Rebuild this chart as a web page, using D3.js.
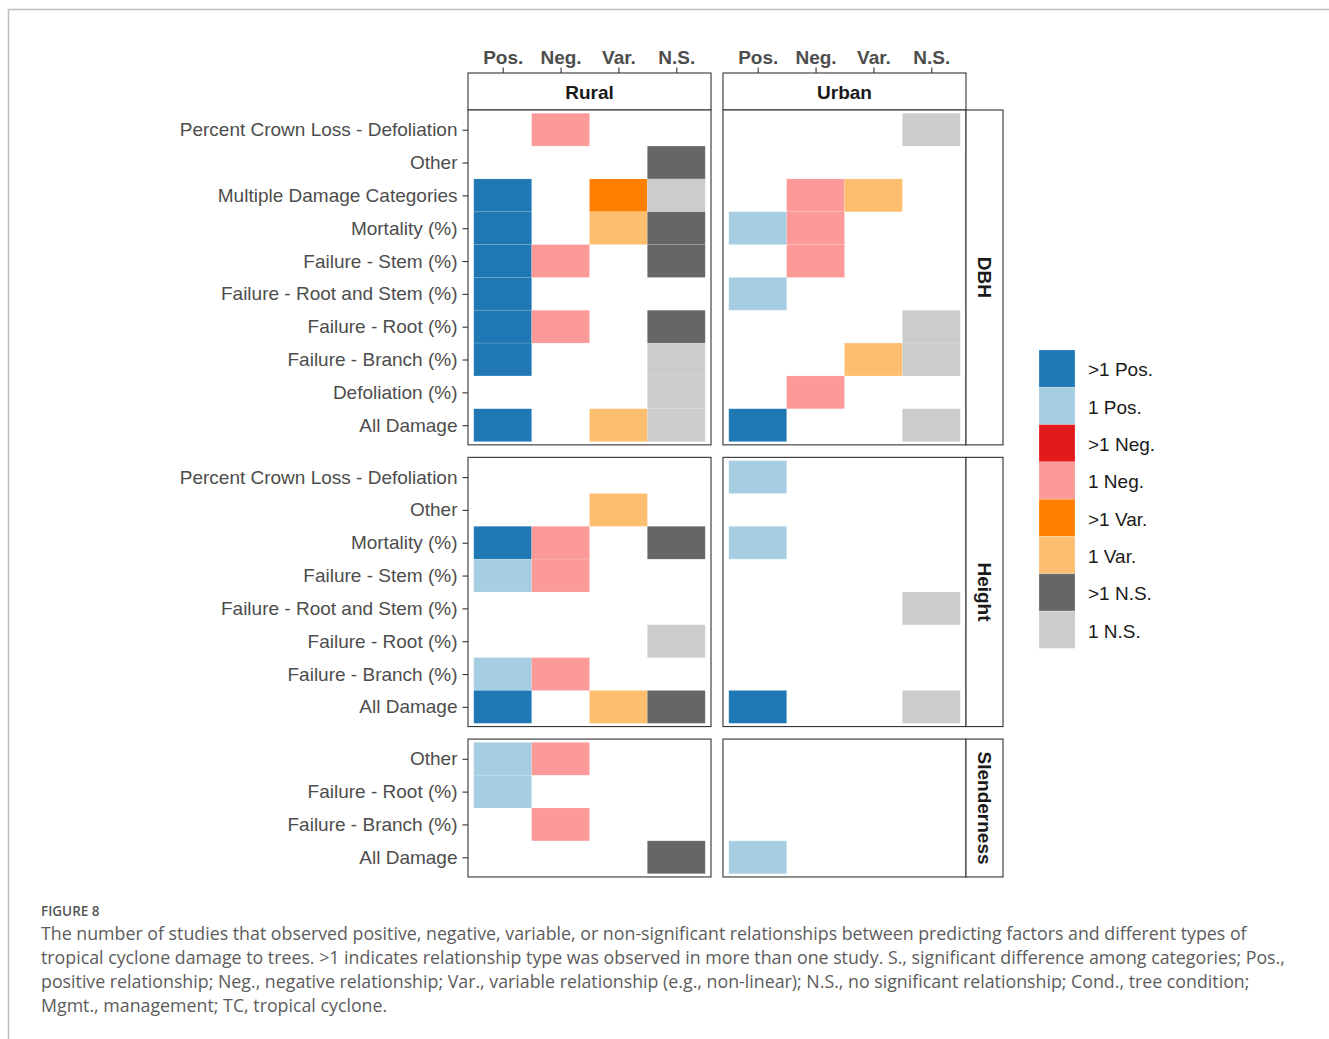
<!DOCTYPE html>
<html><head><meta charset="utf-8">
<script src="https://cdn.jsdelivr.net/npm/d3@7"></script>
<style>
html,body{margin:0;padding:0;background:#fff;}
svg{display:block;}
</style></head>
<body>
<svg id="chart" width="1329" height="1039"></svg>
<script>
// ---------- data ----------
const columns = ["Pos.", "Neg.", "Var.", "N.S."];
const locations = ["Rural", "Urban"];
const facets = ["DBH", "Height", "Slenderness"];
const levels = [">1 Pos.", "1 Pos.", ">1 Neg.", "1 Neg.", ">1 Var.", "1 Var.", ">1 N.S.", "1 N.S."];
const levelColors = ["#1f78b4", "#a6cee3", "#e31a1c", "#fb9a99", "#ff7f00", "#fdbf6f", "#666666", "#cccccc"];

const dbhRows = ["Percent Crown Loss - Defoliation", "Other", "Multiple Damage Categories", "Mortality (%)",
  "Failure - Stem (%)", "Failure - Root and Stem (%)", "Failure - Root (%)", "Failure - Branch (%)",
  "Defoliation (%)", "All Damage"];
const heightRows = ["Percent Crown Loss - Defoliation", "Other", "Mortality (%)", "Failure - Stem (%)",
  "Failure - Root and Stem (%)", "Failure - Root (%)", "Failure - Branch (%)", "All Damage"];
const slenderRows = ["Other", "Failure - Root (%)", "Failure - Branch (%)", "All Damage"];

// [row, column, count]  count: ">1" or "1"
const dbhRural = [
  ["Percent Crown Loss - Defoliation", "Neg.", "1"],
  ["Other", "N.S.", ">1"],
  ["Multiple Damage Categories", "Pos.", ">1"], ["Multiple Damage Categories", "Var.", ">1"], ["Multiple Damage Categories", "N.S.", "1"],
  ["Mortality (%)", "Pos.", ">1"], ["Mortality (%)", "Var.", "1"], ["Mortality (%)", "N.S.", ">1"],
  ["Failure - Stem (%)", "Pos.", ">1"], ["Failure - Stem (%)", "Neg.", "1"], ["Failure - Stem (%)", "N.S.", ">1"],
  ["Failure - Root and Stem (%)", "Pos.", ">1"],
  ["Failure - Root (%)", "Pos.", ">1"], ["Failure - Root (%)", "Neg.", "1"], ["Failure - Root (%)", "N.S.", ">1"],
  ["Failure - Branch (%)", "Pos.", ">1"], ["Failure - Branch (%)", "N.S.", "1"],
  ["Defoliation (%)", "N.S.", "1"],
  ["All Damage", "Pos.", ">1"], ["All Damage", "Var.", "1"], ["All Damage", "N.S.", "1"]
];
const dbhUrban = [
  ["Percent Crown Loss - Defoliation", "N.S.", "1"],
  ["Multiple Damage Categories", "Neg.", "1"], ["Multiple Damage Categories", "Var.", "1"],
  ["Mortality (%)", "Pos.", "1"], ["Mortality (%)", "Neg.", "1"],
  ["Failure - Stem (%)", "Neg.", "1"],
  ["Failure - Root and Stem (%)", "Pos.", "1"],
  ["Failure - Root (%)", "N.S.", "1"],
  ["Failure - Branch (%)", "Var.", "1"], ["Failure - Branch (%)", "N.S.", "1"],
  ["Defoliation (%)", "Neg.", "1"],
  ["All Damage", "Pos.", ">1"], ["All Damage", "N.S.", "1"]
];
const heightRural = [
  ["Other", "Var.", "1"],
  ["Mortality (%)", "Pos.", ">1"], ["Mortality (%)", "Neg.", "1"], ["Mortality (%)", "N.S.", ">1"],
  ["Failure - Stem (%)", "Pos.", "1"], ["Failure - Stem (%)", "Neg.", "1"],
  ["Failure - Root (%)", "N.S.", "1"],
  ["Failure - Branch (%)", "Pos.", "1"], ["Failure - Branch (%)", "Neg.", "1"],
  ["All Damage", "Pos.", ">1"], ["All Damage", "Var.", "1"], ["All Damage", "N.S.", ">1"]
];
const heightUrban = [
  ["Percent Crown Loss - Defoliation", "Pos.", "1"],
  ["Mortality (%)", "Pos.", "1"],
  ["Failure - Root and Stem (%)", "N.S.", "1"],
  ["All Damage", "Pos.", ">1"], ["All Damage", "N.S.", "1"]
];
const slenderRural = [
  ["Other", "Pos.", "1"], ["Other", "Neg.", "1"],
  ["Failure - Root (%)", "Pos.", "1"],
  ["Failure - Branch (%)", "Neg.", "1"],
  ["All Damage", "N.S.", ">1"]
];
const slenderUrban = [
  ["All Damage", "Pos.", "1"]
];

const captionTitle = "FIGURE 8";
const captionLines = [
  "The number of studies that observed positive, negative, variable, or non-significant relationships between predicting factors and different types of",
  "tropical cyclone damage to trees. >1 indicates relationship type was observed in more than one study. S., significant difference among categories; Pos.,",
  "positive relationship; Neg., negative relationship; Var., variable relationship (e.g., non-linear); N.S., no significant relationship; Cond., tree condition;",
  "Mgmt., management; TC, tropical cyclone."
];

// ---------- layout ----------
const svg = d3.select("#chart");
const font = "'Liberation Sans', Arial, sans-serif";
const fs = 19;
const panelLeft = 468, panelW = 243, panelGap = 12;
const panelTop = 110, stripH = 37, rowStep = 32.83, vGap = 12.5;

const facetRows = { "DBH": dbhRows, "Height": heightRows, "Slenderness": slenderRows };
const facetData = {
  "DBH": { "Rural": dbhRural, "Urban": dbhUrban },
  "Height": { "Rural": heightRural, "Urban": heightUrban },
  "Slenderness": { "Rural": slenderRural, "Urban": slenderUrban }
};

const color = d3.scaleOrdinal().domain(levels).range(levelColors);
const locX0 = { "Rural": panelLeft, "Urban": panelLeft + panelW + panelGap };

// frame
svg.append("line").attr("x1", 8.5).attr("x2", 1329).attr("y1", 9.5).attr("y2", 9.5).attr("stroke", "#bdbdbd").attr("stroke-width", 1.5);
svg.append("line").attr("x1", 8.5).attr("x2", 8.5).attr("y1", 9.5).attr("y2", 1039).attr("stroke", "#bdbdbd").attr("stroke-width", 1.5);

let yCursor = panelTop;
const facetY0 = {};
facets.forEach(f => {
  facetY0[f] = yCursor;
  yCursor += facetRows[f].length * rowStep + 0.2 * rowStep + vGap;
});

const xRight = locX0["Urban"] + panelW;

// top strips + top axis
locations.forEach(loc => {
  const x0 = locX0[loc];
  const xs = d3.scaleBand().domain(columns).range([x0, x0 + panelW]).paddingInner(0).paddingOuter(0.1);
  const g = svg.append("g");
  g.append("rect").attr("x", x0).attr("y", panelTop - stripH).attr("width", panelW).attr("height", stripH)
    .attr("fill", "#fff").attr("stroke", "#333").attr("stroke-width", 1.1);
  g.append("text").attr("x", x0 + panelW / 2).attr("y", panelTop - stripH / 2 + 1).attr("dy", "0.36em")
    .attr("text-anchor", "middle").attr("font-family", font).attr("font-weight", "bold").attr("font-size", fs)
    .attr("fill", "#1a1a1a").text(loc);
  const axis = d3.axisTop(d3.scalePoint().domain(columns).range([xs("Pos.") + xs.bandwidth() / 2, xs("N.S.") + xs.bandwidth() / 2]))
    .tickSize(5.5).tickPadding(4);
  const ag = g.append("g").attr("transform", `translate(0,${panelTop - stripH})`).call(axis);
  ag.select(".domain").remove();
  ag.selectAll(".tick line").attr("stroke", "#333").attr("stroke-width", 1.1);
  ag.selectAll(".tick text").attr("font-family", font).attr("font-weight", "bold").attr("font-size", fs).attr("fill", "#4d4d4d");
});

// panels
facets.forEach(f => {
  const rows = facetRows[f];
  const y0 = facetY0[f];
  const h = rows.length * rowStep + 0.2 * rowStep;
  const ys = d3.scaleBand().domain(rows).range([y0, y0 + h]).paddingInner(0).paddingOuter(0.1);

  locations.forEach(loc => {
    const x0 = locX0[loc];
    const xs = d3.scaleBand().domain(columns).range([x0, x0 + panelW]).paddingInner(0).paddingOuter(0.1);
    const g = svg.append("g");
    g.append("rect").attr("x", x0).attr("y", y0).attr("width", panelW).attr("height", h).attr("fill", "#fff");
    g.selectAll("rect.tile").data(facetData[f][loc]).join("rect").attr("class", "tile")
      .attr("x", d => xs(d[1])).attr("y", d => ys(d[0]))
      .attr("width", xs.bandwidth()).attr("height", ys.bandwidth())
      .attr("fill", d => color(d[2] + " " + d[1]))
      .attr("stroke", "#fff").attr("stroke-opacity", 0.12).attr("stroke-width", 0.8);
    g.append("rect").attr("x", x0).attr("y", y0).attr("width", panelW).attr("height", h)
      .attr("fill", "none").attr("stroke", "#333").attr("stroke-width", 1.1);

    if (loc === "Rural") {
      const axis = d3.axisLeft(d3.scalePoint().domain(rows).range([ys(rows[0]) + ys.bandwidth() / 2, ys(rows[rows.length - 1]) + ys.bandwidth() / 2]))
        .tickSize(5.5).tickPadding(5);
      const ag = svg.append("g").attr("transform", `translate(${x0},0)`).call(axis);
      ag.select(".domain").remove();
      ag.selectAll(".tick line").attr("stroke", "#333").attr("stroke-width", 1.1);
      ag.selectAll(".tick text").attr("font-family", font).attr("font-size", fs).attr("fill", "#4d4d4d");
    }
  });

  // right strip
  svg.append("rect").attr("x", xRight).attr("y", y0).attr("width", stripH).attr("height", h)
    .attr("fill", "#fff").attr("stroke", "#333").attr("stroke-width", 1.1);
  svg.append("text").attr("transform", `translate(${xRight + stripH / 2},${y0 + h / 2}) rotate(90)`)
    .attr("dy", "0.36em").attr("text-anchor", "middle").attr("font-family", font).attr("font-weight", "bold")
    .attr("font-size", fs).attr("fill", "#1a1a1a").text(f);
});

// legend
const legX = 1039, legY = 350, keyW = 36, keyH = 37.3;
const lg = svg.append("g");
levels.forEach((lv, i) => {
  lg.append("rect").attr("x", legX).attr("y", legY + i * keyH).attr("width", keyW).attr("height", keyH)
    .attr("fill", color(lv)).attr("stroke", "#fff").attr("stroke-opacity", 0.25).attr("stroke-width", 0.8);
  lg.append("text").attr("x", legX + keyW + 13).attr("y", legY + i * keyH + keyH / 2 + 1).attr("dy", "0.36em")
    .attr("font-family", font).attr("font-size", fs).attr("fill", "#1a1a1a").text(lv);
});

// caption
const cap = svg.append("g");
cap.append("text").attr("x", 41).attr("y", 916).attr("font-family", "'Open Sans', 'Noto Sans', sans-serif")
  .attr("font-size", 13.5).attr("font-weight", 600).attr("fill", "#555").text(captionTitle);
captionLines.forEach((ln, i) => {
  cap.append("text").attr("x", 41).attr("y", 940 + i * 24).attr("font-family", "'Open Sans', 'Noto Sans', sans-serif")
    .attr("font-size", 17.8).attr("fill", "#5c5c5c").text(ln);
});
</script>
</body></html>
